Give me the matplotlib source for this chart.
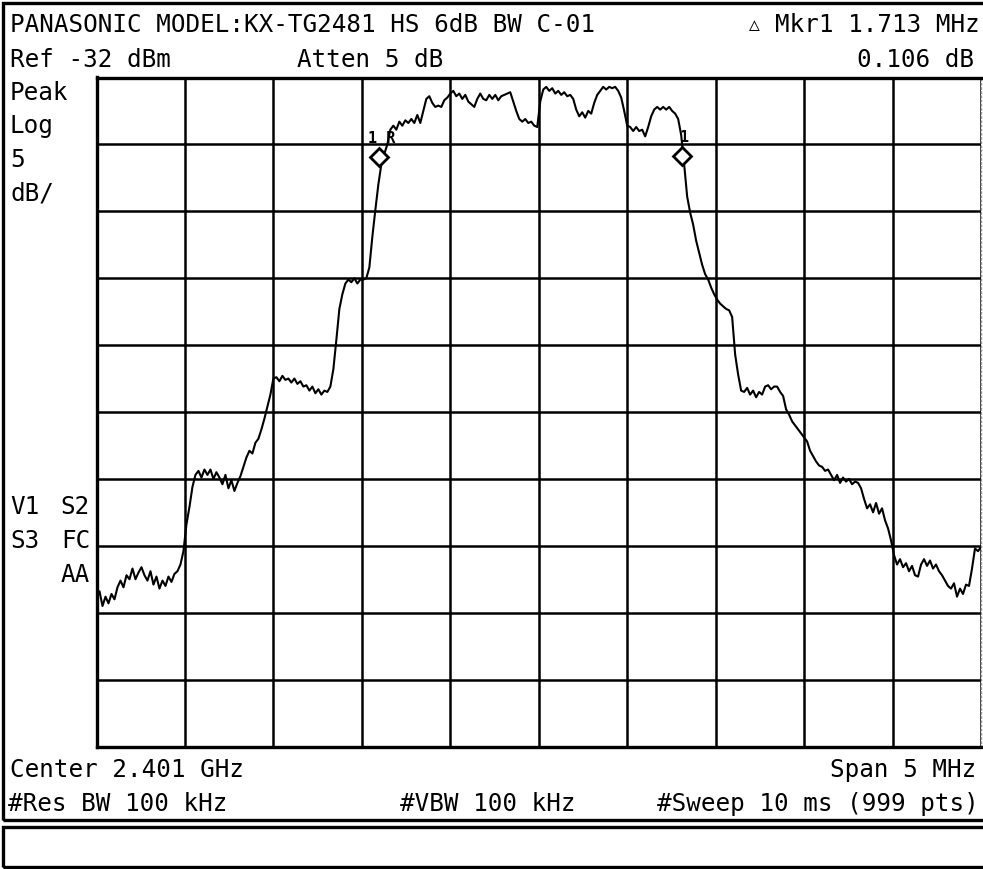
import numpy as np
import matplotlib
matplotlib.use("Agg")
import matplotlib.pyplot as plt
from matplotlib.patches import Rectangle

# ---------------- data ----------------
title_text = "PANASONIC MODEL:KX-TG2481 HS 6dB BW C-01"
marker_readout = "Mkr1 1.713 MHz"
marker_delta = "0.106 dB"
ref_text = "Ref -32 dBm"
atten_text = "Atten 5 dB"
left_labels = ["Peak", "Log", "5", "dB/"]
center_text = "Center 2.401 GHz"
span_text = "Span 5 MHz"
rbw_text = "#Res BW 100 kHz"
vbw_text = "#VBW 100 kHz"
sweep_text = "#Sweep 10 ms (999 pts)"

freq_start_mhz = 2398.5
freq_stop_mhz = 2403.5
ref_level_dbm = -32.0
db_per_div = 5.0
n_div = 10

trace_dbm = [
    -71.0, -70.4, -71.5, -70.8, -71.3, -70.6, -71.0, -70.1, -69.6, -70.1,
    -69.2, -69.5, -68.7, -69.5, -69.0, -68.6, -69.2, -69.6, -68.9, -69.9,
    -69.3, -70.2, -69.6, -70.0, -69.3, -69.7, -69.1, -68.9, -68.4, -67.4,
    -65.4, -64.1, -62.6, -61.7, -61.4, -61.9, -61.3, -61.7, -61.3, -62.0,
    -61.5, -61.9, -62.4, -61.7, -62.7, -62.1, -62.9, -62.3, -61.8, -61.1,
    -60.4, -59.9, -60.1, -59.3, -59.0, -58.3, -57.5, -56.6, -55.7, -54.5,
    -54.4, -54.7, -54.3, -54.6, -54.5, -54.8, -54.5, -54.9, -54.7, -55.1,
    -55.0, -55.4, -55.1, -55.6, -55.3, -55.7, -55.4, -55.5, -55.1, -53.8,
    -51.6, -49.3, -48.2, -47.4, -47.1, -47.3, -47.0, -47.4, -47.1, -47.1,
    -47.0, -46.2, -43.9, -41.9, -40.0, -38.5, -37.7, -37.0, -35.9, -35.6,
    -35.9, -35.3, -35.6, -35.2, -35.4, -35.1, -35.4, -34.8, -35.4, -34.5,
    -33.6, -33.4, -33.9, -34.2, -34.1, -34.2, -33.7, -33.5, -33.2, -33.0,
    -33.4, -33.2, -33.6, -33.3, -33.8, -34.0, -34.2, -33.6, -33.2, -33.6,
    -33.7, -33.3, -33.6, -33.3, -33.7, -33.4, -33.3, -33.2, -33.1, -33.8,
    -34.5, -35.1, -35.3, -35.1, -35.4, -35.3, -35.6, -35.7, -33.8, -32.9,
    -32.7, -33.0, -32.8, -33.2, -33.0, -33.3, -33.1, -33.4, -33.3, -33.6,
    -34.4, -34.9, -34.6, -35.0, -34.5, -34.7, -33.9, -33.3, -33.0, -32.7,
    -32.9, -32.7, -32.8, -32.7, -33.0, -33.5, -34.5, -35.6, -35.7, -36.0,
    -35.7, -36.0, -35.9, -36.4, -35.7, -34.9, -34.4, -34.2, -34.4, -34.2,
    -34.4, -34.2, -34.5, -34.7, -35.1, -36.3, -38.5, -40.9, -42.1, -43.0,
    -44.2, -45.1, -46.0, -46.7, -47.1, -47.7, -48.2, -48.6, -48.9, -49.1,
    -49.3, -49.4, -49.9, -52.7, -54.2, -55.4, -55.5, -55.2, -55.7, -55.4,
    -55.9, -55.5, -55.7, -55.1, -55.0, -55.3, -55.1, -55.1, -55.5, -55.8,
    -56.8, -57.2, -57.7, -58.0, -58.3, -58.6, -58.9, -59.2, -59.9, -60.3,
    -60.7, -61.0, -61.1, -61.4, -61.3, -61.7, -62.1, -61.7, -62.3, -61.9,
    -62.2, -62.0, -62.4, -62.2, -62.3, -62.7, -63.5, -64.2, -63.9, -64.5,
    -63.8, -64.6, -64.2, -65.1, -65.7, -66.6, -67.7, -68.4, -68.0, -68.6,
    -68.3, -68.9, -68.5, -69.2, -69.3, -68.4, -68.0, -68.5, -68.1, -68.7,
    -68.4, -68.9, -69.2, -69.6, -70.0, -70.2, -69.8, -70.8, -70.2, -70.6,
    -69.9, -70.0, -68.7, -67.2, -67.4, -67.1,
]

marker_freq_mhz = [2400.095, 2401.808]
marker_level_dbm = [-37.95, -37.85]
marker_labels = ["1 R", "1"]

# ---------------- figure ----------------
W, H = 983, 869
fig = plt.figure(figsize=(W / 100, H / 100), dpi=100)
fig.patch.set_facecolor("white")


def fx(x):
    return x / W


def fy(y):
    return 1 - y / H


mono = "DejaVu Sans Mono"
fs = 17.5

# outer frames
fig.add_artist(Rectangle((fx(3), fy(820)), fx(1000) - fx(3), (820 - 3) / H,
                         transform=fig.transFigure, fill=False,
                         lw=2.4, edgecolor="black"))
fig.add_artist(Rectangle((fx(3), fy(867)), fx(1000) - fx(3), (867 - 827) / H,
                         transform=fig.transFigure, fill=False,
                         lw=2.4, edgecolor="black"))

# graticule axes
left_px, right_px, top_px, bottom_px = 96.5, 981, 77.5, 746.5
ax = fig.add_axes([fx(left_px), fy(bottom_px),
                   (right_px - left_px) / W, (bottom_px - top_px) / H])
bottom_dbm = ref_level_dbm - db_per_div * n_div
ax.set_xlim(freq_start_mhz, freq_stop_mhz)
ax.set_ylim(bottom_dbm, ref_level_dbm)
ax.set_xticks(np.linspace(freq_start_mhz, freq_stop_mhz, n_div + 1))
ax.set_yticks(np.linspace(bottom_dbm, ref_level_dbm, n_div + 1))
ax.tick_params(length=0, labelbottom=False, labelleft=False)
ax.grid(True, color="black", lw=1.8)
ax.set_axisbelow(True)
for s in ["left", "top", "bottom"]:
    ax.spines[s].set_linewidth(2.4)
    ax.spines[s].set_color("black")
ax.spines["right"].set_linewidth(1.0)
ax.spines["right"].set_color("#999999")
ax.spines["right"].set_linestyle((0, (1, 2)))

freqs = np.linspace(freq_start_mhz, freq_stop_mhz, len(trace_dbm))
ax.plot(freqs, trace_dbm, color="black", lw=1.5, zorder=3)

for f, lv, lab in zip(marker_freq_mhz, marker_level_dbm, marker_labels):
    ax.plot([f], [lv], marker="D", markersize=9, markerfacecolor="white",
            markeredgecolor="black", markeredgewidth=2.0, zorder=5)
    ax.annotate(lab, (f, lv), xytext=(2, 10), textcoords="offset points",
                ha="center", va="baseline", fontsize=11, fontweight="bold",
                family=mono, zorder=6)

# ---------------- annotation texts ----------------
def t(x, y, s, ha="left", size=fs):
    fig.text(fx(x), fy(y), s, ha=ha, va="baseline", family=mono, fontsize=size)


t(10, 32, title_text)
t(980, 32, marker_readout, ha="right")
t(754, 30, "\u25b3", ha="center", size=13)
t(10, 67, ref_text)
t(297, 67, atten_text)
t(974, 67, marker_delta, ha="right")
for i, lab in enumerate(left_labels):
    t(10, 100 + 33.5 * i, lab)
t(10, 514, "V1")
t(90, 514, "S2", ha="right")
t(10, 548, "S3")
t(90, 548, "FC", ha="right")
t(90, 582, "AA", ha="right")
t(10, 777, center_text)
t(976, 777, span_text, ha="right")
t(8, 811, rbw_text)
t(400, 811, vbw_text)
t(979, 811, sweep_text, ha="right")

fig.savefig("out.png", dpi=100)
